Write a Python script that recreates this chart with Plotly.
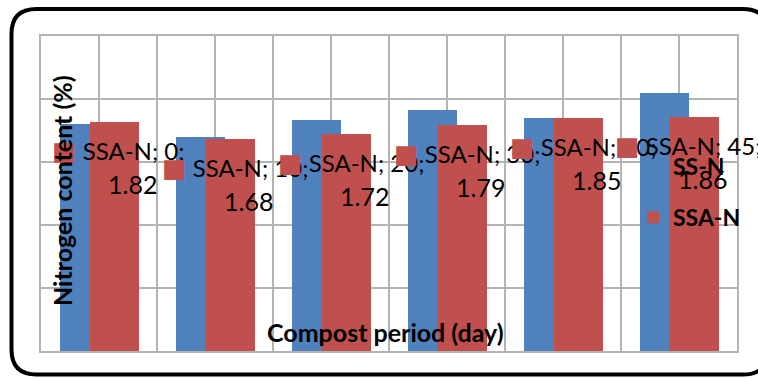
import plotly.graph_objects as go

# ---- data ----
categories = ["0", "10", "20", "30", "40", "45"]          # compost period (day)
ss_n = [1.80, 1.70, 1.83, 1.91, 1.85, 2.05]               # SS-N nitrogen content (%)
ssa_n = [1.82, 1.68, 1.72, 1.79, 1.85, 1.86]              # SSA-N nitrogen content (%)
series_names = ["SS-N", "SSA-N"]

BLUE = "#4F81BD"
RED = "#C0504D"
GRID = "#B4B4B4"
FONT = "Lato"

W = 0.4224       # bar width (category units)
OFF_B = -0.3405  # offset of blue bar
OFF_R = -0.0819  # offset of red bar

W_PX, H_PX = 758, 379
ML, MR, MT, MB = 41, 21, 36, 28
PW, PH = W_PX - ML - MR, H_PX - MT - MB

x = list(range(len(categories)))

fig = go.Figure()
fig.add_bar(x=x, y=ss_n, name=series_names[0], width=W, offset=OFF_B,
            marker=dict(color=BLUE, line=dict(width=0)), legendgroup="g1")
fig.add_bar(x=x, y=ssa_n, name=series_names[1], width=W, offset=OFF_R,
            marker=dict(color=RED, line=dict(width=0)), legendgroup="g2")

annotations = []
for i, (cat, v) in enumerate(zip(categories, ssa_n)):
    cx = i + OFF_R + W / 2
    # last label is pushed left to stay inside the chart area
    edge = -10.5 if i == len(categories) - 1 else 0
    annotations.append(dict(
        x=cx, y=v, xref="x", yref="y", xshift=4.5 + edge, yshift=-29,
        xanchor="center", yanchor="middle", showarrow=False,
        text=(f"<span style='color:{RED};font-family:DejaVu Sans;font-size:26px'>■</span>"
              f" {series_names[1]}; {cat};"),
        font=dict(family=FONT, size=24, color="black")))
    annotations.append(dict(
        x=cx, y=v, xref="x", yref="y", xshift=18.5 + edge, yshift=-62,
        xanchor="center", yanchor="middle", showarrow=False,
        text=f"{v:.2f}", font=dict(family=FONT, size=25, color="black")))

def px2paper(px, py):
    return (px - ML) / PW, (H_PX - MB - py) / PH

annotations.append(dict(
    x=px2paper(62, 0)[0], y=px2paper(0, 191)[1], xref="paper", yref="paper",
    text="<b>Nitrogen content (%)</b>", textangle=-90, showarrow=False,
    xanchor="center", yanchor="middle", font=dict(family=FONT, size=25, color="black")))
annotations.append(dict(
    x=px2paper(385.5, 0)[0], y=px2paper(0, 332)[1], xref="paper", yref="paper",
    text="<b>Compost period (day)</b>", showarrow=False,
    xanchor="center", yanchor="middle", font=dict(family=FONT, size=25, color="black")))

# rounded chart frame
L, T, R, B, r = 11.5, 9, 768, 374.5, 25
pts = [("M", L + r, T), ("L", R - r, T), ("Q", R, T, R, T + r), ("L", R, B - r),
       ("Q", R, B, R - r, B), ("L", L + r, B), ("Q", L, B, L, B - r), ("L", L, T + r),
       ("Q", L, T, L + r, T)]
path = ""
for p in pts:
    cmd = p[0]
    coords = p[1:]
    seg = []
    for k in range(0, len(coords), 2):
        a, b = px2paper(coords[k], coords[k + 1])
        seg.append(f"{a:.5f},{b:.5f}")
    path += cmd + " ".join(seg) + " "
path += "Z"

fig.update_layout(
    width=W_PX, height=H_PX,
    margin=dict(l=ML, r=MR, t=MT, b=MB, pad=0),
    paper_bgcolor="white", plot_bgcolor="white",
    barmode="overlay", bargap=0,
    font=dict(family=FONT, color="black"),
    xaxis=dict(range=[-0.5, 5.5], tick0=-0.5, dtick=0.5, showgrid=True, gridcolor=GRID,
               gridwidth=2, showticklabels=False, ticks="", zeroline=False,
               showline=True, linecolor=GRID, linewidth=2, mirror=True, fixedrange=True),
    yaxis=dict(range=[0, 2.5], dtick=0.5, showgrid=True, gridcolor=GRID, gridwidth=2,
               showticklabels=False, ticks="", zeroline=False,
               showline=True, linecolor=GRID, linewidth=2, mirror=True, fixedrange=True),
    legend=dict(x=px2paper(633, 0)[0], y=px2paper(0, 145)[1], xanchor="left", yanchor="top",
                bgcolor="rgba(0,0,0,0)", tracegroupgap=18, traceorder="grouped",
                font=dict(family=FONT, size=23, color="black", weight="bold")),
    annotations=annotations,
    shapes=[dict(type="path", xref="paper", yref="paper", path=path,
                 line=dict(color="black", width=4), fillcolor="rgba(0,0,0,0)", layer="above")],
)

fig.write_html("out.html")
